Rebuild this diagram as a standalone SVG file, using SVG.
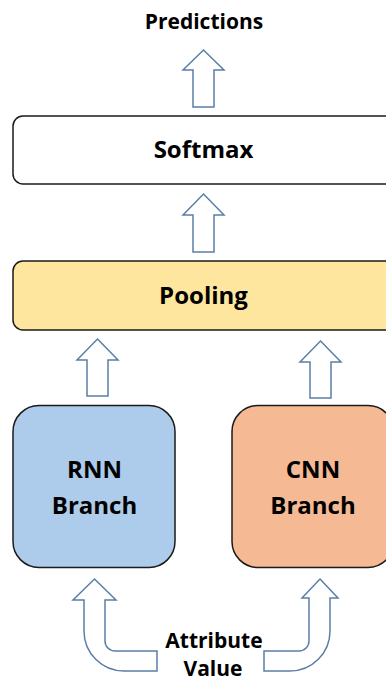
<svg xmlns="http://www.w3.org/2000/svg" width="386" height="683" viewBox="0 0 386 683">
  <style>
    .box { stroke: #1a1a1a; stroke-width: 1.5; }
    .lbl { font-family: "Open Sans", "Liberation Sans", sans-serif; font-weight: 700; fill: #000; text-anchor: middle; }
    .arr { fill: #ffffff; stroke: #5a7fa6; stroke-width: 1.5; stroke-linejoin: miter; }
  </style>
  <rect width="386" height="683" fill="#ffffff"/>

  <g id="predictions">
    <text class="lbl" x="204" y="29" font-size="21">Predictions</text>
  </g>

  <g id="softmax">
    <rect class="box" x="13" y="116" width="382" height="68" rx="10" fill="#ffffff"/>
    <text class="lbl" x="203.5" y="158" font-size="24">Softmax</text>
  </g>

  <g id="pooling">
    <rect class="box" x="13" y="261" width="382" height="69" rx="10" fill="#fee69e"/>
    <text class="lbl" x="203.5" y="304" font-size="24">Pooling</text>
  </g>

  <g id="rnn">
    <rect class="box" x="13" y="405.5" width="162" height="162" rx="26" fill="#adcbea"/>
    <text class="lbl" x="94.5" y="478" font-size="24">RNN</text>
    <text class="lbl" x="94.5" y="514" font-size="24">Branch</text>
  </g>

  <g id="cnn">
    <rect class="box" x="232" y="405.5" width="162" height="162" rx="26" fill="#f5b994"/>
    <text class="lbl" x="313" y="478" font-size="24">CNN</text>
    <text class="lbl" x="313" y="514" font-size="24">Branch</text>
  </g>

  <g id="attribute-value">
    <text class="lbl" x="214" y="648" font-size="21">Attribute</text>
    <text class="lbl" x="213" y="676" font-size="21">Value</text>
  </g>

  <g id="connectors">
    <path class="arr" d="M203.5 50 L224 70 L214 70 L214 107 L193 107 L193 70 L183 70 Z"/>
    <path class="arr" d="M203.5 194 L224 215 L214 215 L214 252 L193 252 L193 215 L183 215 Z"/>
    <path class="arr" d="M97.5 339 L118 360 L108 360 L108 396 L87 396 L87 360 L77 360 Z"/>
    <path class="arr" d="M320.5 341 L341 362 L331 362 L331 398 L310 398 L310 362 L300 362 Z"/>
    <path class="arr" d="M94.5 579 L116 600 L105 600 L105 641 A10 10 0 0 0 115 651 L157 651 L157 671 L124 671 A40 40 0 0 1 84 631 L84 600 L73 600 Z"/>
    <path class="arr" d="M320 579 L338 598 L330 598 L330 631 A40 40 0 0 1 290 671 L264 671 L264 651 L299 651 A10 10 0 0 0 309 641 L309 598 L302 598 Z"/>
  </g>
</svg>
